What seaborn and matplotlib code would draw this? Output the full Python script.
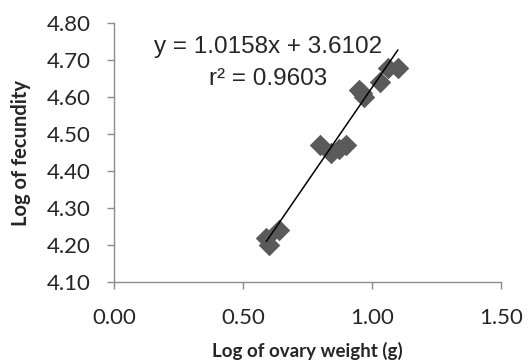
import numpy as np
import pandas as pd
import matplotlib
matplotlib.use('Agg')
import matplotlib.pyplot as plt
import seaborn as sns

# Log of ovary weight (g) vs log of fecundity
ovary_log = [0.59, 0.60, 0.64, 0.80, 0.84, 0.87, 0.90, 0.95, 0.97, 0.96, 1.03, 1.06, 1.10]
fecundity_log = [4.22, 4.20, 4.24, 4.47, 4.45, 4.46, 4.47, 4.62, 4.60, 4.61, 4.64, 4.68, 4.68]

slope = 1.0158
intercept = 3.6102
r2 = 0.9603

x_ticks = [0.00, 0.50, 1.00, 1.50]
y_ticks = [4.10, 4.20, 4.30, 4.40, 4.50, 4.60, 4.70, 4.80]

data = pd.DataFrame({'ovary': ovary_log, 'fecundity': fecundity_log})

sns.set_style('white')
plt.rcParams['font.family'] = ['Lato', 'DejaVu Sans']

fig = plt.figure(figsize=(5.28, 3.62), dpi=100)
ax = fig.add_axes([0.216, 0.221, 0.733, 0.715])

sns.scatterplot(data=data, x='ovary', y='fecundity', marker='D', s=120,
                color='#5a5a5a', edgecolor='#5a5a5a', linewidth=0, ax=ax, zorder=2)

# trendline from the stated fit, across the data range
xl = np.array([min(ovary_log), max(ovary_log)])
ax.plot(xl, slope * xl + intercept, color='black', lw=1.1, zorder=3)

ax.text(0.598, 4.735, f'y = {slope}x + {intercept}', ha='center', va='center',
        fontsize=17.5, family='Liberation Sans')
ax.text(0.598, 4.650, f'r² = {r2}', ha='center', va='center',
        fontsize=17.5, family='Liberation Sans')

ax.set_xlim(0, 1.5)
ax.set_ylim(4.10, 4.80)
ax.set_xticks(x_ticks)
ax.set_xticklabels([f'{v:.2f}' for v in x_ticks])
ax.set_yticks(y_ticks)
ax.set_yticklabels([f'{v:.2f}' for v in y_ticks])
ax.tick_params(axis='both', direction='out', length=5, width=1, color='#8c8c8c',
               labelsize=16, bottom=True, left=True)
ax.tick_params(axis='x', pad=14)
ax.tick_params(axis='y', pad=12)

for side in ['top', 'right']:
    ax.spines[side].set_visible(False)
for side in ['left', 'bottom']:
    ax.spines[side].set_color('#8c8c8c')
    ax.spines[side].set_linewidth(1)

ax.set_xlabel('Log of ovary weight (g)', fontsize=13.5, fontweight='bold', labelpad=10)
ax.set_ylabel('Log of fecundity', fontsize=14.5, fontweight='bold', labelpad=11)

fig.savefig('out.png', dpi=100)
